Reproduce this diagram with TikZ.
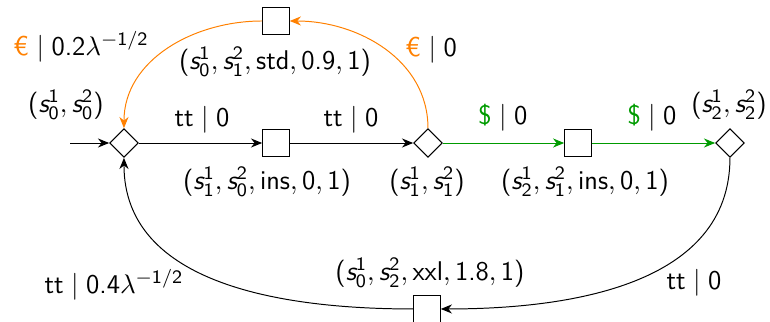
\documentclass[tikz,border=0pt]{standalone}
\usepackage{amsmath}
\usepackage[no-math]{fontspec}
\usepackage{xcolor}
\usetikzlibrary{shapes.geometric,arrows.meta}
\definecolor{eurocol}{RGB}{255,128,0}
\definecolor{dollarcol}{RGB}{0,155,0}
\newcommand{\eur}{\text{\textcolor{eurocol}{€}}}
\newcommand{\dol}{\text{\textcolor{dollarcol}{\$}}}
\newcommand{\tick}{\text{tt}}
\newcommand{\sv}[2]{\text{\slshape s}^{\text{#1}}_{\text{#2}}}
\newcommand{\tup}[1]{\text{(}#1\text{)}}
\newcommand{\lamexp}[1]{\text{#1}\lambda^{-\text{1/2}}}

\begin{document}
\begin{tikzpicture}[x=1cm,y=1cm,font=\sffamily\fontsize{11pt}{13pt}\selectfont,
    >={Stealth[length=1.6mm,width=1.3mm]},
    player/.style={draw,diamond,aspect=1,minimum size=0.41cm,inner sep=0pt},
    chance/.style={draw,rectangle,minimum size=0.38cm,inner sep=0pt},
    edge/.style={->}]
      \useasboundingbox (-1.771,-2.557) rectangle (9.229,2.043);
      % states
      \node[player] (q0) at (0,0) {};
      \node[player] (q1) at (4.343,0) {};
      \node[player] (q2) at (8.657,0) {};
      \node[chance] (ins0) at (2.171,0) {};
      \node[chance] (ins1) at (6.486,0) {};
      \node[chance] (std) at (2.171,1.743) {};
      \node[chance] (xxl) at (4.329,-2.371) {};
      \coordinate (init) at (-0.77,0);
      % labels of states
      \node at (-0.829,0.543) {$\tup{\sv{1}{0},\sv{2}{0}}$};
      \node at (4.329,-0.557) {$\tup{\sv{1}{1},\sv{2}{1}}$};
      \node at (8.643,0.543) {$\tup{\sv{1}{2},\sv{2}{2}}$};
      \node at (2.043,-0.557) {$\tup{\sv{1}{1},\sv{2}{0},\text{ins},\text{0},\text{1}}$};
      \node at (6.586,-0.557) {$\tup{\sv{1}{2},\sv{2}{1},\text{ins},\text{0},\text{1}}$};
      \node at (2.157,1.157) {$\tup{\sv{1}{0},\sv{2}{1},\text{std},\text{0.9},\text{1}}$};
      \node at (4.371,-1.857) {$\tup{\sv{1}{0},\sv{2}{2},\text{xxl},\text{1.8},\text{1}}$};
      % transitions
      \draw[edge] (init) -- (q0);
      \draw[edge] (q0) -- (ins0);
      \draw[edge] (ins0) -- (q1);
      \draw[edge,dollarcol] (q1) -- (ins1);
      \draw[edge,dollarcol] (ins1) -- (q2);
      \draw[edge,eurocol] (q1.north) to[out=90,in=0] (std.east);
      \draw[edge,eurocol] (std.west) to[out=180,in=90] (q0.north);
      \draw[edge] (q2.south) to[out=-90,in=0] (xxl.east);
      \draw[edge] (xxl.west) to[out=180,in=-90] (q0.south);
      % labels of transitions
      \node at (1.114,0.329) {$\tick\mid\text{0}$};
      \node at (3.243,0.329) {$\tick\mid\text{0}$};
      \node at (5.414,0.357) {$\dol\mid\text{0}$};
      \node at (7.543,0.357) {$\dol\mid\text{0}$};
      \node at (-0.614,1.371) {$\eur\mid\lamexp{0.2}$};
      \node at (4.386,1.329) {$\eur\mid\text{0}$};
      \node at (-0.143,-2.029) {$\tick\mid\lamexp{0.4}$};
      \node at (8.143,-2.0) {$\tick\mid\text{0}$};
    \end{tikzpicture}
\end{document}
